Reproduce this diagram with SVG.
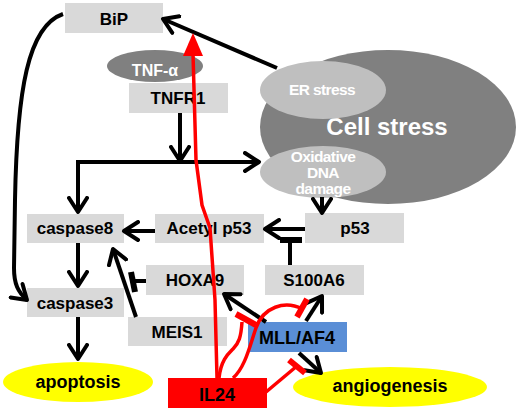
<svg xmlns="http://www.w3.org/2000/svg" width="520" height="412" viewBox="0 0 520 412">
<style>
.box{fill:#d9d9d9}
.t{font-family:"Liberation Sans",Arial,sans-serif;font-weight:bold;text-anchor:middle;fill:#000}
.w{fill:#fff}
.s{font-size:15.5px;letter-spacing:-0.6px}
.k{fill:none;stroke:#000;stroke-width:4}
.r{fill:none;stroke:#f00;stroke-width:3.5}
.rb{fill:none;stroke:#f00;stroke-width:6}
.kb{fill:none;stroke:#000;stroke-width:6}
</style>
<defs>
<marker id="ah" viewBox="0 0 20 22" refX="16" refY="11" markerWidth="20" markerHeight="22" markerUnits="userSpaceOnUse" orient="auto">
<path d="M2,2 L16,11 L2,20" fill="none" stroke="#000" stroke-width="4" stroke-linejoin="round" stroke-linecap="round"/>
</marker>
</defs>
<rect width="520" height="412" fill="#fff"/>

<g id="cellstress">
<ellipse cx="388" cy="127" rx="128" ry="77" fill="#808080"/>
<text class="t w" x="387" y="135" font-size="24">Cell stress</text>
</g>
<g id="erstress">
<ellipse cx="323" cy="90" rx="63" ry="29" fill="#bfbfbf"/>
<text class="t w s" x="322" y="95">ER stress</text>
</g>
<g id="oxidative">
<ellipse cx="323" cy="172" rx="63" ry="26" fill="#bfbfbf"/>
<text class="t w s" x="323" y="162">Oxidative</text>
<text class="t w s" x="323" y="178">DNA</text>
<text class="t w s" x="323" y="194">damage</text>
</g>
<g id="bip">
<rect class="box" x="65" y="3" width="98" height="30"/>
<text class="t" x="114" y="25" font-size="17">BiP</text>
</g>
<g id="tnfa">
<ellipse cx="155" cy="66" rx="48" ry="16" fill="#808080"/>
<text class="t w" x="155" y="76" font-size="16">TNF-α</text>
</g>
<g id="tnfr1">
<rect class="box" x="129" y="83" width="99" height="30"/>
<text class="t" x="178" y="104" font-size="17">TNFR1</text>
</g>
<g id="p53">
<rect class="box" x="305" y="213" width="99" height="30"/>
<text class="t" x="355" y="234" font-size="17">p53</text>
</g>
<g id="acetylp53">
<rect class="box" x="155" y="214" width="109" height="29"/>
<text class="t" x="209" y="234" font-size="17">Acetyl p53</text>
</g>
<g id="caspase8">
<rect class="box" x="27" y="214" width="97" height="29"/>
<text class="t" x="75" y="234" font-size="17">caspase8</text>
</g>
<g id="caspase3">
<rect class="box" x="27" y="288" width="97" height="29"/>
<text class="t" x="75" y="309" font-size="17">caspase3</text>
</g>
<g id="hoxa9">
<rect class="box" x="146" y="265" width="98" height="30"/>
<text class="t" x="195" y="286" font-size="17">HOXA9</text>
</g>
<g id="s100a6">
<rect class="box" x="265" y="265" width="99" height="30"/>
<text class="t" x="314" y="286" font-size="17">S100A6</text>
</g>
<g id="meis1">
<rect class="box" x="128" y="317" width="99" height="29"/>
<text class="t" x="177" y="338" font-size="17">MEIS1</text>
</g>
<g id="mllaf4">
<rect x="248" y="322" width="99" height="30" fill="#5a8ed6"/>
<text class="t" x="297" y="344" font-size="18">MLL/AF4</text>
</g>
<g id="apoptosis">
<ellipse cx="78" cy="382" rx="75" ry="20" fill="#ffff00"/>
<text class="t" x="78" y="388" font-size="18">apoptosis</text>
</g>
<g id="angiogenesis">
<ellipse cx="390" cy="387" rx="97" ry="20" fill="#ffff00"/>
<text class="t" x="390" y="392" font-size="18">angiogenesis</text>
</g>

<g id="connectors">
<path class="k" d="M277,68 L163,19" marker-end="url(#ah)"/>
<path class="k" d="M63,14 C28,26 17,90 15,200 L14,268 C14,284 18,292 27,300" marker-end="url(#ah)"/>
<path class="k" d="M180,113 L180,161" marker-end="url(#ah)"/>
<path class="k" d="M78,162 L259,162" marker-end="url(#ah)"/>
<path class="k" d="M78,160 L78,212" marker-end="url(#ah)"/>
<path class="k" d="M322,197 L322,213" marker-end="url(#ah)"/>
<path class="k" d="M305,229 L265,229" marker-end="url(#ah)"/>
<path class="k" d="M155,231 L124,231" marker-end="url(#ah)"/>
<path class="k" d="M78,243 L78,286" marker-end="url(#ah)"/>
<path class="k" d="M78,317 L78,359" marker-end="url(#ah)"/>
<path class="k" d="M136,317 L113,249" marker-end="url(#ah)"/>
<path class="k" d="M146,281 L134,281"/>
<path class="kb" d="M131,272 L135,292"/>
<path class="k" d="M290,265 L290,240"/>
<path class="kb" d="M280,240 L302,240"/>
<path class="k" d="M266,322 L224,294" marker-end="url(#ah)"/>
<path class="k" d="M306,321 L322,296" marker-end="url(#ah)"/>
<path class="k" d="M299,353 L321,373" marker-end="url(#ah)"/>
<path class="r" d="M217,378 L215,300 L210,228 L202,205 L196,160 L193,54"/>
<polygon points="193,33 183,56 203,56" fill="#f00"/>
<path class="r" d="M219,378 C221,360 228,354 233,349 C239,343 241,337 242,322"/>
<path class="rb" d="M236,314 L256,325"/>
<path class="r" d="M233,378 C245,368 250,345 256,328 C263,307 285,300 302,309"/>
<path class="rb" d="M297,317 L307,299"/>
<path class="r" d="M266,392 L297,366"/>
<path class="rb" d="M289,360 L305,373"/>
</g>

<g id="il24">
<rect x="168" y="378" width="99" height="30" fill="#f00"/>
<text class="t" x="217" y="401" font-size="18">IL24</text>
</g>
</svg>
